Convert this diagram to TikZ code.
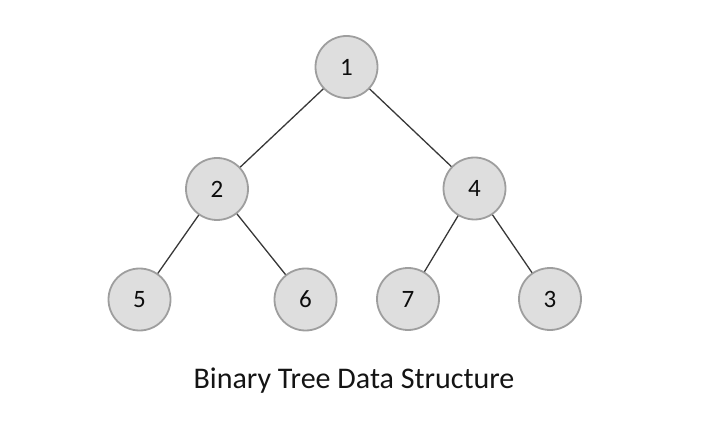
\documentclass[tikz,border=0pt]{standalone}
\usepackage{fontspec}
\setmainfont{Carlito}
\begin{document}
\begin{tikzpicture}[x=1pt,y=-1pt,
  tnode/.style={circle,draw=black!38,line width=1.8pt,fill=black!13,minimum size=62pt,inner sep=0pt,font=\fontsize{25}{25}\selectfont,text=black!95},
  edge/.style={draw=black!78,line width=1.3pt}]
\useasboundingbox (0,0) rectangle (714,435);
\node[tnode] (n1) at (346.5,67) {1};
\node[tnode] (n2) at (217,189) {2};
\node[tnode] (n4) at (474.5,188.5) {4};
\node[tnode] (n5) at (139.5,299.5) {5};
\node[tnode] (n6) at (305.5,299.5) {6};
\node[tnode] (n7) at (408,299) {7};
\node[tnode] (n3) at (550,299) {3};
\draw[edge] (n1) -- (n2);
\draw[edge] (n1) -- (n4);
\draw[edge] (n2) -- (n5);
\draw[edge] (n2) -- (n6);
\draw[edge] (n4) -- (n7);
\draw[edge] (n4) -- (n3);
\node[font=\fontsize{30}{30}\selectfont,text=black!92] (cap) at (354,381) {Binary Tree Data Structure};
\end{tikzpicture}
\end{document}
